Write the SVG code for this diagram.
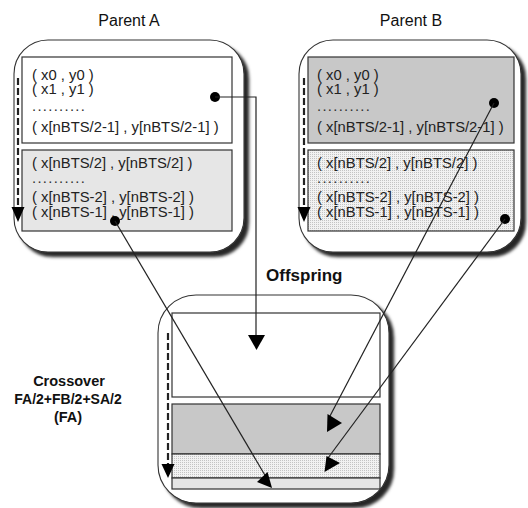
<svg xmlns="http://www.w3.org/2000/svg" width="528" height="508" viewBox="0 0 528 508">
  <defs>
    <filter id="shadow" x="-10%" y="-10%" width="125%" height="125%">
      <feDropShadow dx="4.5" dy="4.5" stdDeviation="1.6" flood-color="#000" flood-opacity="0.85"/>
    </filter>
    <pattern id="stipple" width="2" height="2" patternUnits="userSpaceOnUse">
      <rect width="2" height="2" fill="#f2f2f2"/>
      <rect width="1" height="1" fill="#c4c4c4"/>
    </pattern>
  </defs>
  <style>
    .box { fill: #fff; stroke: #333; stroke-width: 1.1; }
    .seg { stroke: #333; stroke-width: 1.2; }
    .white { fill: #fff; }
    .dark { fill: #c8c8c8; }
    .light { fill: #e6e6e6; }
    .dots { fill: url(#stipple); }
    .pt { font-family: "Liberation Sans", Arial, sans-serif; font-size: 14.8px; fill: #222; }
    .ellip { font-family: "Liberation Sans", Arial, sans-serif; font-size: 14.8px; fill: #333; letter-spacing: 1.3px; }
    .title { font-family: "Liberation Sans", Arial, sans-serif; font-size: 16px; fill: #111; text-anchor: middle; }
    .bold { font-family: "Liberation Sans", Arial, sans-serif; font-weight: bold; fill: #111; }
    .flow { stroke: #222; stroke-width: 2.2; stroke-dasharray: 7 3; fill: none; }
    .halo { stroke: #fff; stroke-width: 4.5; fill: none; }
    .link { stroke: #222; stroke-width: 1.2; fill: none; }
    .head { fill: #000; }
  </style>

  <!-- Parent A -->
  <g id="parentA">
    <text class="title" x="129" y="26">Parent A</text>
    <rect class="box" x="14" y="40" width="230" height="212" rx="34" filter="url(#shadow)"/>
    <rect class="seg white" x="22" y="57" width="210" height="86"/>
    <rect class="seg light" x="22" y="150" width="210" height="81"/>
    <text class="pt" x="32" y="80">( x0 , y0 )</text>
    <text class="pt" x="32" y="94">( x1 , y1 )</text>
    <text class="ellip" x="32" y="111">..........</text>
    <text class="pt" x="32" y="132">( x[nBTS/2-1] , y[nBTS/2-1] )</text>
    <text class="pt" x="32" y="168">( x[nBTS/2] , y[nBTS/2] )</text>
    <text class="ellip" x="32" y="183">..........</text>
    <text class="pt" x="32" y="202">( x[nBTS-2] , y[nBTS-2] )</text>
    <text class="pt" x="32" y="217">( x[nBTS-1] , y[nBTS-1] )</text>
    <line class="halo" x1="18" y1="77" x2="18" y2="208"/>
    <line class="flow" x1="18" y1="78" x2="18" y2="208"/>
    <polygon class="head" points="11.5,207 24.5,207 18,222"/>
  </g>

  <!-- Parent B -->
  <g id="parentB">
    <text class="title" x="411" y="26">Parent B</text>
    <rect class="box" x="299" y="40" width="222" height="212" rx="34" filter="url(#shadow)"/>
    <rect class="seg dark" x="308" y="57" width="206" height="86"/>
    <rect class="seg dots" x="308" y="150" width="206" height="81"/>
    <text class="pt" x="317" y="80">( x0 , y0 )</text>
    <text class="pt" x="317" y="94">( x1 , y1 )</text>
    <text class="ellip" x="317" y="111">..........</text>
    <text class="pt" x="317" y="132">( x[nBTS/2-1] , y[nBTS/2-1] )</text>
    <text class="pt" x="317" y="168">( x[nBTS/2] , y[nBTS/2] )</text>
    <text class="ellip" x="317" y="183">..........</text>
    <text class="pt" x="317" y="202">( x[nBTS-2] , y[nBTS-2] )</text>
    <text class="pt" x="317" y="217">( x[nBTS-1] , y[nBTS-1] )</text>
    <line class="halo" x1="304" y1="77" x2="304" y2="208"/>
    <line class="flow" x1="304" y1="78" x2="304" y2="208"/>
    <polygon class="head" points="297.5,207 310.5,207 304,222"/>
  </g>

  <!-- Offspring -->
  <g id="offspring">
    <text class="bold" x="266" y="281" font-size="17">Offspring</text>
    <rect class="box" x="158" y="295" width="231" height="208" rx="38" filter="url(#shadow)"/>
    <rect class="seg white" x="172" y="313" width="208" height="84"/>
    <rect class="seg dark" x="172" y="404" width="208" height="50"/>
    <rect class="seg dots" x="172" y="454" width="208" height="24"/>
    <rect class="seg light" x="172" y="478" width="208" height="11"/>
    <line class="halo" x1="168" y1="332" x2="168" y2="466"/>
    <line class="flow" x1="168" y1="333" x2="168" y2="466"/>
    <polygon class="head" points="161.5,464 174.5,464 168,478"/>
  </g>

  <!-- Crossover caption -->
  <g id="crossover">
    <text class="bold" x="69" y="386" font-size="14.5" text-anchor="middle">Crossover</text>
    <text class="bold" x="68" y="404" font-size="14" text-anchor="middle">FA/2+FB/2+SA/2</text>
    <text class="bold" x="68" y="422" font-size="14.5" text-anchor="middle">(FA)</text>
  </g>

  <!-- Connectors -->
  <g id="connectors">
    <!-- A first half -> offspring first block -->
    <circle class="head" cx="215" cy="97" r="5"/>
    <polyline class="link" points="215,97 256,97 256,337"/>
    <polygon class="head" points="248,335 265,335 256.5,350"/>
    <!-- A second half -> offspring last block -->
    <circle class="head" cx="115" cy="221" r="5"/>
    <line class="link" x1="115" y1="221" x2="266" y2="477"/>
    <polygon class="head" points="257,482 267.5,472 272,488"/>
    <!-- B first half -> offspring second block -->
    <circle class="head" cx="494" cy="103" r="5"/>
    <line class="link" x1="494" y1="103" x2="330" y2="416"/>
    <polygon class="head" points="327.5,414 342,423 327,432"/>
    <!-- B second half -> offspring third block -->
    <circle class="head" cx="505" cy="219" r="5"/>
    <line class="link" x1="505" y1="219" x2="328" y2="458"/>
    <polygon class="head" points="326.5,456 340,463 324.5,472"/>
  </g>
</svg>
